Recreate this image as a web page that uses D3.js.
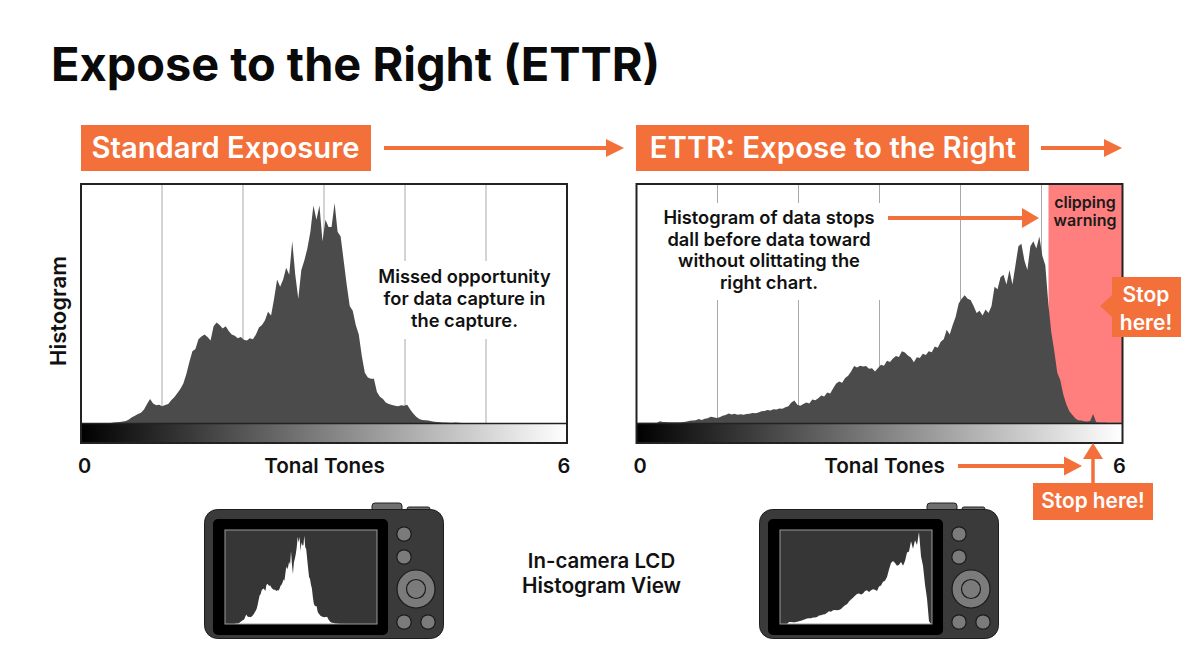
<!DOCTYPE html>
<html>
<head>
<meta charset="utf-8">
<script src="https://cdn.jsdelivr.net/npm/d3@7/dist/d3.min.js"></script>
<style>
html,body{margin:0;padding:0;background:#fff;}
svg{display:block;}
text{font-family:Inter,"Noto Sans",sans-serif;}
</style>
</head>
<body>
<svg id="chart" width="1204" height="672"></svg>
<script>
// Histogram heights in percent of the plot height, one value per equal tonal bin.
const standardCounts = [
0,0,0,0,0,0,0,0,0,0,.2,.3,.4,.6,.8,1.5,2.4,3,3.8,4.3,5.6,8,10,8.2,7.4,7.6,7,7.5,8,9.5,
10.8,12.5,14.2,16.5,20.5,25.5,30,31,35,36.2,37,36,34.5,40.5,42,41,39.5,40.5,38.5,37,
36.5,35.5,36,34.8,34.5,35.5,35,37,40,41,43,46.5,45,52,60,57,60,65,62,76,62,52,64,68,73,
80,91,85,91,76,85,82,82,92,80,78,68,58,49,47,41,37,28,21,19,18.5,18.5,13,11,10,8.5,8,7.5,
7.2,7,7.4,7.2,7.6,5.6,4,2.6,1.7,1.3,1.2,1,.7,.5,.4,.3,.2,.2,.1,.1,.2,.1,0,0,0,0,0,0,0,0,
0,0,0,0,0,0,0,0,0,0,0,0,0,0,0,0,0,0,0,0,0,0,0,0,0,0,0];
const ettrCounts = [
.1,.1,.1,.1,.1,.1,.1,.7,.4,.4,.3,.3,.3,.3,.3,.4,.6,.9,1,1.2,1.7,1.3,1.8,2,2.6,2.4,2.1,2.4,
3,3.3,4,3.6,3.9,3.5,3.7,3.4,3.8,3.9,4.2,4.1,4.4,4.9,5,5.4,5.2,5.8,5.6,6.1,6,6.6,7,8.6,9.4,
7.6,7.2,8,8.6,8.2,9.8,9.5,10.4,11.5,11.1,12.8,12.3,14.5,16.5,17.4,16.8,18.8,19.8,21.5,23.8,
23.2,24,23.6,23.8,22.7,22.9,21.6,23,24.4,24,26,25.5,27,28,27.6,30,29.5,28.2,27.4,25.4,27.5,
27.2,29,28.4,30,29.6,32,31.5,34,35,39,37,41,44.5,50,52,53.5,52,51.5,49,46,47,45,47.5,46,49,
57,56,61,62,58,64,58,66,74,75,68,64,74,76,73,78,70,66,50,38,30,21,18,12,8,5,3.5,2,1.2,1,.7,
.6,.8,3.8,.4,.2,.2,.2,.1,.1,.1,.1,.1];
// Readout shown on the right camera's screen.
const lcdEttrCounts = [
0,0,0,0,2,2,1.8,1.8,2.5,3,3.5,4.2,5,5.8,6,6.2,7,7,7.5,9,9.4,10,10.5,12,13.5,13,14.5,15,14.5,
15,16,18,20,21,24,26,28,30,32,32.5,31.5,32.5,35,36,34,36,37,36.5,35,40,41,45,46,50,58,65,67,
65,62,63,66,62,67,76,77,88,80,89,84,98,72,62,42,27,3,0];

const gridTones = [1,2,3,4,5];
const toneExtent = [0,6];
const toneLabels = ["0","6"];
const axisTitle = "Tonal Tones";
const leftHeader = "Standard Exposure";
const rightHeader = "ETTR: Expose to the Right";
const leftNote = ["Missed opportunity","for data capture in","the capture."];
const rightNote = ["Histogram of data stops","dall before data toward","without olittating the","right chart."];

const ORANGE = "#f3703a", BAR = "#4b4b4b", FRAME = "#222";
const svg = d3.select("#chart");
const defs = svg.append("defs");

const grad = defs.append("linearGradient").attr("id","tonal");
d3.range(0,1.01,.1).forEach(t=>{
  grad.append("stop").attr("offset",t).attr("stop-color",d3.interpolateRgb("#000","#fff")(t));
});
defs.append("clipPath").attr("id","lcdA").append("rect").attr("x",225).attr("y",530).attr("width",152).attr("height",94);
defs.append("clipPath").attr("id","lcdB").append("rect").attr("x",780).attr("y",530).attr("width",152).attr("height",94);

function label(x,y,str,size,weight,fill,anchor){
  return svg.append("text").attr("x",x).attr("y",y).text(str)
    .attr("font-size",size).attr("font-weight",weight).attr("fill",fill||"#111")
    .attr("text-anchor",anchor||"middle");
}
function arrow(x1,y1,x2,y2,headLen,headHalf,width){
  const a = Math.atan2(y2-y1,x2-x1), c=Math.cos(a), s=Math.sin(a);
  const bx=x2-headLen*c, by=y2-headLen*s;
  svg.append("line").attr("x1",x1).attr("y1",y1).attr("x2",bx).attr("y2",by)
    .attr("stroke",ORANGE).attr("stroke-width",width);
  svg.append("path").attr("fill",ORANGE)
    .attr("d",`M${x2},${y2}L${bx-headHalf*s},${by+headHalf*c}L${bx+headHalf*s},${by-headHalf*c}Z`);
}
// Filled silhouette through the bin centres, closed down to the baseline at both ends
function histArea(counts,x0,x1,yBase,yTop,maxValue){
  const x = d3.scaleLinear().domain([0,counts.length]).range([x0,x1]);
  const y = d3.scaleLinear().domain([0,maxValue]).range([yBase,yTop]);
  const pts = counts.map((v,i)=>[i+.5,v]);
  pts.unshift([0,0]); pts.push([counts.length,0]);
  return d3.area().x(d=>x(d[0])).y0(yBase).y1(d=>y(d[1])).curve(d3.curveLinear)(pts);
}

// Panel: frame, tone grid, histogram, gradient strip and axis labels
function panel(x0,counts,note){
  const x1=x0+486, top=184, base=423, stripBottom=443;
  const tone=d3.scaleLinear().domain(toneExtent).range([x0,x1]);
  svg.append("rect").attr("x",x0).attr("y",top).attr("width",486).attr("height",base-top).attr("fill","#fff");
  if(note.clip) svg.append("rect").attr("x",note.clip).attr("y",top).attr("width",x1-note.clip).attr("height",base-top).attr("fill","#ff7f7f");
  svg.selectAll(null).data(gridTones).enter().append("line")
    .attr("x1",d=>tone(d)).attr("x2",d=>tone(d)).attr("y1",top).attr("y2",base)
    .attr("stroke","#a9a9a9").attr("stroke-width",1);
  svg.append("rect").attr("x",note.mask[0]).attr("y",note.mask[1]).attr("width",note.mask[2]).attr("height",note.mask[3]).attr("fill","#fff");
  svg.append("path").attr("d",histArea(counts,x0+1,x1-1,base,top,100)).attr("fill",BAR);
  svg.append("rect").attr("x",x0).attr("y",base).attr("width",486).attr("height",stripBottom-base).attr("fill","url(#tonal)");
  svg.append("line").attr("x1",x0).attr("x2",x1).attr("y1",base+.5).attr("y2",base+.5).attr("stroke",FRAME).attr("stroke-width",1.5);
  svg.append("rect").attr("x",x0).attr("y",top).attr("width",486).attr("height",stripBottom-top)
    .attr("fill","none").attr("stroke",FRAME).attr("stroke-width",2);
}

// Camera back with its screen readout
function camera(dx,counts,maxValue,clipId){
  const g=svg.append("g");
  const rr=(x,y,w,h,r,fill,stroke)=>g.append("rect").attr("x",x+dx).attr("y",y).attr("width",w).attr("height",h).attr("rx",r).attr("fill",fill).attr("stroke",stroke||"none");
  rr(372,503,30,9,3,"#6f6f6f","#222");
  rr(407,507,23,5,2,"#6f6f6f","#222");
  rr(204.5,509.5,239,129,13,"#3a3a3a","#1d1d1d");
  rr(213,519,175,116,5,"#000");
  rr(225,530,152,94,0,"#363636");
  g.append("path").attr("clip-path",`url(#${clipId})`)
    .attr("d",histArea(counts,225+dx,377+dx,624,530,maxValue)).attr("fill","#fff");
  rr(225,530,152,94,0,"none","#9a9a9a");
  const circ=(x,y,r,f)=>g.append("circle").attr("cx",x+dx).attr("cy",y).attr("r",r).attr("fill",f).attr("stroke","#1a1a1a").attr("stroke-width",1.2);
  [[404,534],[404,557],[404,622],[428,622]].forEach(p=>circ(p[0],p[1],7.2,"#7b7b7b"));
  circ(416,589,19,"#7b7b7b");
  circ(416,589,9.5,"#7b7b7b");
}

// Title
label(51,81,"Expose to the Right (ETTR)",46.9,700,"#0a0a0a","start");

// Section headers with their flow arrows
svg.append("rect").attr("x",81).attr("y",125).attr("width",290).attr("height",46).attr("fill",ORANGE);
label(225.5,158,leftHeader,29.2,600,"#fff");
arrow(384,148,624,148,18,9,4);
svg.append("rect").attr("x",636).attr("y",125).attr("width",393).attr("height",46).attr("fill",ORANGE);
label(833,158,rightHeader,29.4,600,"#fff");
arrow(1041,148,1122,148,18,9,4);

panel(81,standardCounts,{mask:[370,261,190,78]});
panel(636.5,ettrCounts,{clip:1048.5,mask:[660,203,225,97]});

// Annotations inside the panels
leftNote.forEach((t,i)=>label(464.5,283+i*22,t,18.3,600));
rightNote.forEach((t,i)=>label(769,224+i*21.7,t,18.3,600));
arrow(888,218,1039,218,17,10,4);
label(1085,208,"clipping",16,600,"#1a1a1a");
label(1085,226,"warning",16,600,"#1a1a1a");

// Callouts
svg.append("path").attr("fill",ORANGE).attr("d","M1112,277H1181V337H1112V317L1100,306L1112,295Z");
label(1146,302,"Stop",21,600,"#fff");
label(1146,330,"here!",21,600,"#fff");
svg.append("rect").attr("x",1033).attr("y",483).attr("width",120).attr("height",37).attr("fill",ORANGE);
label(1093,508,"Stop here!",20.8,600,"#fff");
arrow(1093,483,1093,443,16,10,3.5);
arrow(958,466,1082,466,18,9.5,4);

// Axis text
label(59,311,"Histogram",22,600).attr("transform","rotate(-90 59 311)").attr("dy",7);
[81,636.5].forEach(x0=>{
  const tone=d3.scaleLinear().domain(toneExtent).range([x0,x0+486]);
  label(tone(toneExtent[0])+3.5,473,toneLabels[0],20,600);
  label(tone(toneExtent[1])-3,473,toneLabels[1],20,600);
});
label(324.5,473,axisTitle,20.7,600);
label(884.5,473,axisTitle,20.7,600);

camera(0,standardCounts,98,"lcdA");
camera(555,lcdEttrCounts,100,"lcdB");

label(601.5,568,"In-camera LCD",20.4,600);
label(601.5,593,"Histogram View",20.8,600);
</script>
</body>
</html>
